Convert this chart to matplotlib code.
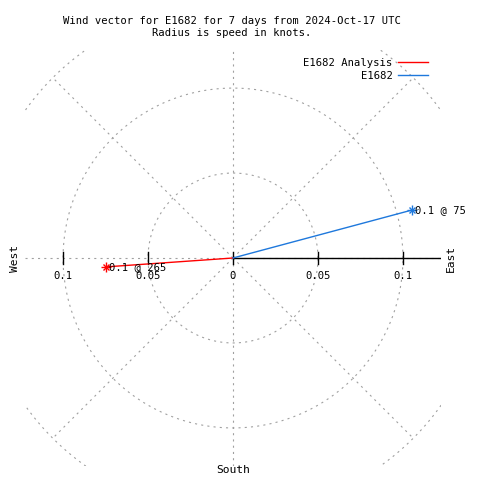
import numpy as np
import matplotlib
matplotlib.use("Agg")
import matplotlib.pyplot as plt
from matplotlib.lines import Line2D

# ---- data ----
series_names = ["E1682 Analysis", "E1682"]
series_colors = ["#ff0000", "#1e78dc"]
speeds = [0.0748, 0.109]       # knots
directions = [266, 75]         # degrees (compass, toward)
vector_labels = ["0.1 @ 265", "0.1 @ 75"]
ring_values = [0.05, 0.10, 0.15]
tick_values = [-0.1, -0.05, 0.0, 0.05, 0.1]
tick_labels = ["0.1", "0.05", "0", "0.05", "0.1"]
title = "Wind vector for E1682 for 7 days from 2024-Oct-17 UTC\nRadius is speed in knots."

FONT = "DejaVu Sans Mono"
FS = 7.6
plt.rcParams['font.family'] = [FONT]
plt.rcParams['lines.scale_dashes'] = False

fig = plt.figure(figsize=(4.8, 4.8), dpi=100)
ax = fig.add_axes([25/480, 14/480, 416/480, 416/480])
lim = 0.1224
ax.set_xlim(-lim, lim)
ax.set_ylim(-lim, lim)
ax.set_aspect('equal')
ax.axis('off')

grid_kw = dict(color="#a0a0a0", lw=0.8, dashes=(1.5, 3.0), zorder=1)
# circles
th = np.linspace(0, 2*np.pi, 721)
for r in ring_values:
    ax.plot(r*np.cos(th), r*np.sin(th), clip_on=True, **grid_kw)
# axes grid lines
ax.plot([-lim, lim], [0, 0], **grid_kw)
ax.plot([0, 0], [-lim, lim], **grid_kw)
# diagonal spokes to outer ring
rmax = max(ring_values)
for ang in [45, 135, 225, 315]:
    a = np.deg2rad(ang)
    ax.plot([0, rmax*np.cos(a)], [0, rmax*np.sin(a)], **grid_kw)

# black x axis from 0 to right
ax.plot([0, lim], [0, 0], color="black", lw=1.0, zorder=2)
tick_len = 0.0035
for tv in tick_values:
    ax.plot([tv, tv], [-tick_len, tick_len], color="black", lw=1.0, zorder=2)
for tv, tl in zip(tick_values, tick_labels):
    ax.annotate(tl, (tv, 0), xytext=(0, -18), textcoords='offset pixels',
                ha='center', va='center', fontsize=FS, family=FONT)

# vectors
for name, col, s, d, lab in zip(series_names, series_colors, speeds, directions, vector_labels):
    x = s*np.sin(np.deg2rad(d))
    y = s*np.cos(np.deg2rad(d))
    ax.plot([0, x], [0, y], color=col, lw=1.0, label=name, zorder=3)
    ax.plot([x], [y], marker='+', ms=7, mew=1.0, color=col, zorder=4)
    ax.plot([x], [y], marker='x', ms=5, mew=1.0, color=col, zorder=4)
    ax.annotate(lab, (x, y), xytext=(3, 0), textcoords='offset pixels',
                ha='left', va='center', fontsize=FS, family=FONT, zorder=5)

# legend
handles = [Line2D([], [], color=c, lw=1.0) for c in series_colors]
ax.legend(handles, series_names, loc='upper right',
          bbox_to_anchor=(428/480, (480-58)/480), bbox_transform=fig.transFigure,
          frameon=False, markerfirst=False, fontsize=FS, handlelength=2.8,
          handletextpad=0.55, borderpad=0, borderaxespad=0, labelspacing=0.25,
          prop={'family': FONT, 'size': FS})

# compass labels
fig.text(15/480, 1-258/480, "West", rotation=90, ha='center', va='center', fontsize=FS+0.5, family=FONT)
fig.text(451/480, 1-258/480, "East", rotation=90, ha='center', va='center', fontsize=FS+0.5, family=FONT)
fig.text(233/480, 1-470/480, "South", ha='center', va='center', fontsize=FS+0.5, family=FONT)

fig.text(232/480, 1-27/480, title, ha='center', va='center', fontsize=FS, family=FONT,
         linespacing=1.3)

fig.savefig("out.png", dpi=100)
